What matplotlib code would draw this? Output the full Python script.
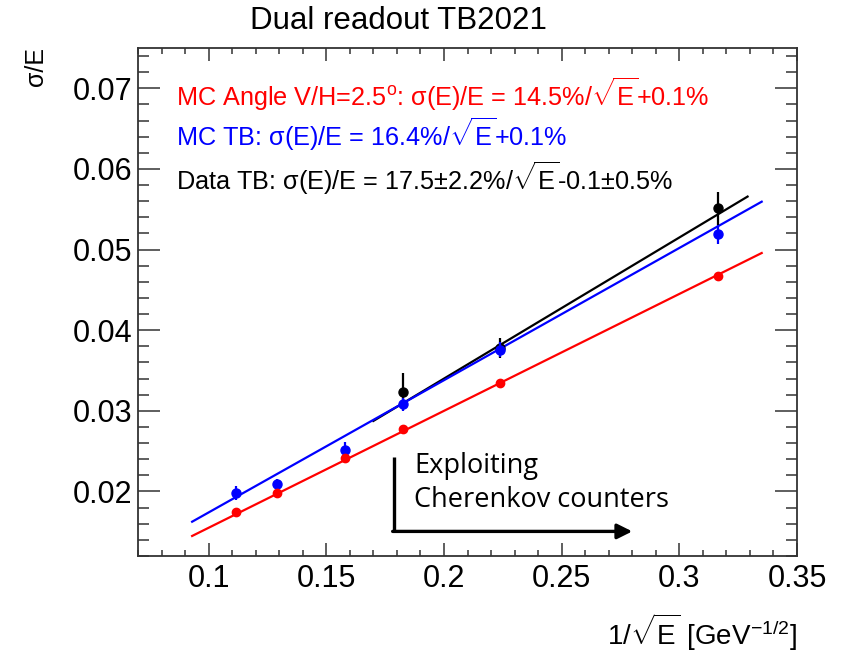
import numpy as np
import matplotlib
matplotlib.use("Agg")
import matplotlib.pyplot as plt
from matplotlib.ticker import MultipleLocator, FormatStrFormatter, FuncFormatter

plt.rcParams["font.family"] = ["Liberation Sans", "DejaVu Sans"]
plt.rcParams["mathtext.fontset"] = "custom"
plt.rcParams["mathtext.rm"] = "Liberation Sans"
plt.rcParams["mathtext.it"] = "Liberation Sans:italic"
plt.rcParams["mathtext.bf"] = "Liberation Sans:bold"

# Beam energies (GeV) and resolution points
mc_energies = [80, 60, 40, 30, 20, 10]
mc_angle_res = [0.0174, 0.0198, 0.0241, 0.0277, 0.0335, 0.0467]
mc_angle_err = [0.0002, 0.0002, 0.0002, 0.0002, 0.0002, 0.0003]
mc_tb_res = [0.0198, 0.0209, 0.0252, 0.0308, 0.0376, 0.0519]
mc_tb_err = [0.0009, 0.0007, 0.0009, 0.0008, 0.0009, 0.0012]
data_energies = [30, 20, 10]
data_tb_res = [0.0324, 0.0378, 0.0551]
data_tb_err = [0.0023, 0.0012, 0.0021]

# Linear fits: sigma/E = a * (1/sqrt(E)) + b, a and b in percent
fit_stoch = [14.5, 16.4, 17.5]
fit_const = [0.1, 0.1, -0.1]
fit_range = [(0.093, 0.335), (0.093, 0.335), (0.170, 0.329)]
series_colors = ["#ff0000", "#0000ff", "#000000"]
legend_texts = [
    r"MC Angle V/H=2.5$^{\mathrm{o}}$: σ(E)/E = 14.5%/$\sqrt{\mathrm{E}}$+0.1%",
    r"MC TB: σ(E)/E = 16.4%/$\sqrt{\mathrm{E}}$+0.1%",
    r"Data TB: σ(E)/E = 17.5±2.2%/$\sqrt{\mathrm{E}}$-0.1±0.5%",
]

fig = plt.figure(figsize=(8.41, 6.53), dpi=100)
ax = fig.add_axes([138 / 841, 1 - 556 / 653, (797 - 138) / 841, (556 - 48) / 653])

x_mc = 1 / np.sqrt(np.array(mc_energies, dtype=float))
x_data = 1 / np.sqrt(np.array(data_energies, dtype=float))

# fit lines (data first so the MC markers sit on top)
for i in [2, 1, 0]:
    lo, hi = fit_range[i]
    xs = np.linspace(lo, hi, 50)
    ys = fit_stoch[i] / 100 * xs + fit_const[i] / 100
    ax.plot(xs, ys, color=series_colors[i], lw=1.6, zorder=2)

ax.errorbar(x_data, data_tb_res, yerr=data_tb_err, fmt="o", color="black",
            ms=6.5, elinewidth=1.6, capsize=0, zorder=3)
ax.errorbar(x_mc, mc_tb_res, yerr=mc_tb_err, fmt="o", color="#0000ff",
            ms=6.5, elinewidth=1.6, capsize=0, zorder=4)
ax.errorbar(x_mc, mc_angle_res, yerr=mc_angle_err, fmt="o", color="#ff0000",
            ms=6, elinewidth=1.6, capsize=0, zorder=5)

ax.set_xlim(0.07, 0.35)
ax.set_ylim(0.012, 0.075)
ax.xaxis.set_major_locator(MultipleLocator(0.05))
ax.xaxis.set_minor_locator(MultipleLocator(0.01))
ax.yaxis.set_major_locator(MultipleLocator(0.01))
ax.yaxis.set_minor_locator(MultipleLocator(0.002))
ax.xaxis.set_major_formatter(FuncFormatter(lambda v, p: f"{v:g}"))
ax.yaxis.set_major_formatter(FormatStrFormatter("%.2f"))

ax.tick_params(axis="both", which="both", direction="in", top=True, right=True,
               color="#333333", width=1.1, labelsize=22)
ax.tick_params(axis="x", which="major", length=9.5, pad=6)
ax.tick_params(axis="x", which="minor", length=4.5)
ax.tick_params(axis="y", which="major", length=16, pad=4)
ax.tick_params(axis="y", which="minor", length=8)
for s in ax.spines.values():
    s.set_linewidth(1.3)
    s.set_color("#333333")

# fit descriptions
for txt, col, yy in zip(legend_texts, series_colors, [0.909, 0.830, 0.744]):
    ax.text(0.058, yy, txt, transform=ax.transAxes, color=col, fontsize=18.2,
            va="center", ha="left")

fig.text(0.474, 1 - 21 / 653, "Dual readout TB2021", ha="center", va="center",
         fontsize=22.5)
fig.text(36 / 841, 1 - 47 / 653, "σ/E", rotation=90, ha="center", va="top",
         fontsize=18)
fig.text(797 / 841, 1 - 632 / 653, r"1/$\sqrt{\mathrm{E}}$ [GeV$^{\mathrm{-1/2}}$]",
         ha="right", va="center", fontsize=20)

# Cherenkov annotation with an L-shaped arrow
ax.plot([0.1787, 0.1787], [0.0243, 0.01505], color="black", lw=2.4,
        solid_capstyle="butt", zorder=6)
ax.annotate("", xy=(0.2800, 0.01505), xytext=(0.1782, 0.01505),
            arrowprops=dict(arrowstyle="-|>,head_length=0.9,head_width=0.45",
                            color="black", lw=2.4, shrinkA=0, shrinkB=0),
            zorder=6)
ax.text(0.1874, 0.0211, "Exploiting\nCherenkov counters", ha="left", va="center",
        fontsize=19.5, family=["Open Sans", "DejaVu Sans"], linespacing=1.28,
        zorder=6)

fig.savefig("out.png", dpi=100)
